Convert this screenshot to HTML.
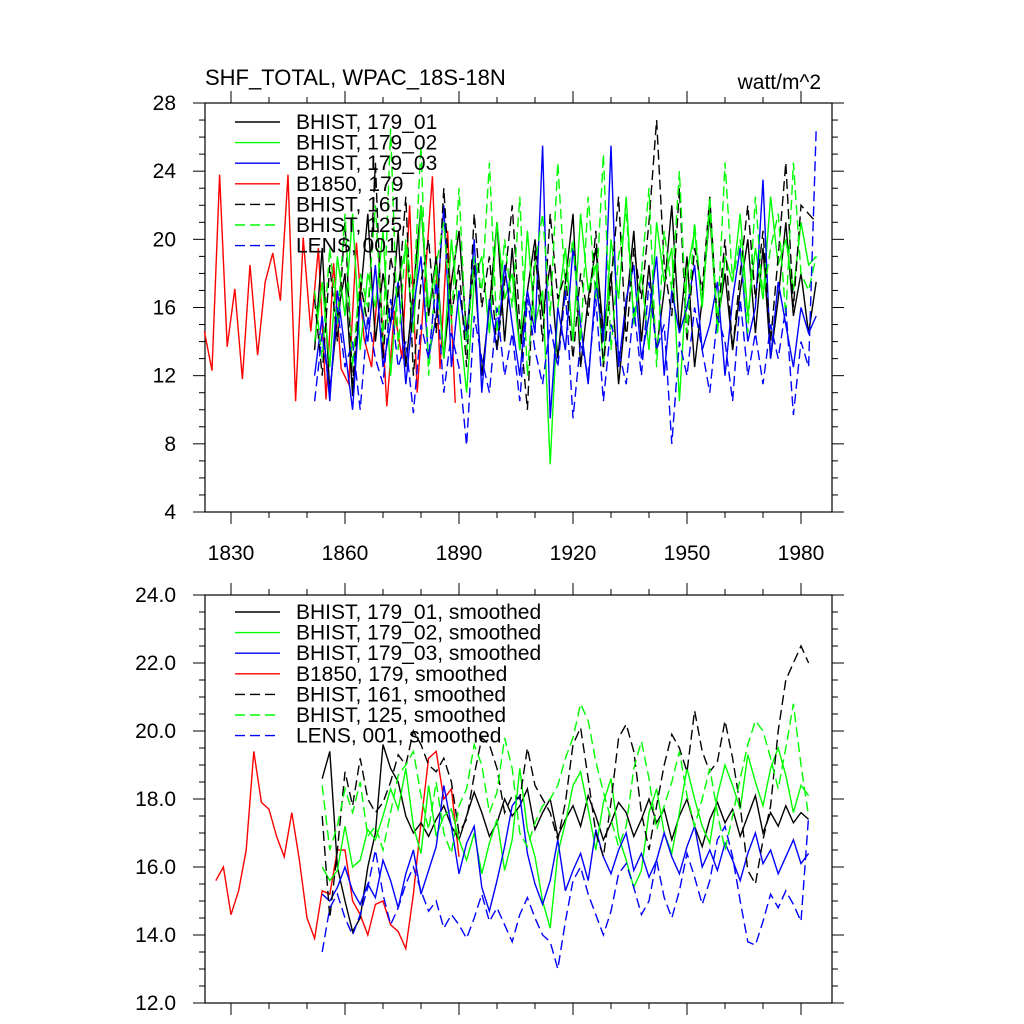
<!DOCTYPE html>
<html><head><meta charset="utf-8"><style>
body{margin:0;background:#fff;}
svg{display:block;font-family:"Liberation Sans",sans-serif;}
</style></head><body>
<svg id="c" width="1024" height="1024"></svg>
<script>
const redYears0=1823, redStep=2;
const red=[14.6,12.3,23.8,13.7,17.1,11.8,18.5,13.2,17.5,19.2,16.4,23.8,10.5,20.1,14.6,19.5,10.6,18.6,12.4,11.5,19.8,14.2,12.5,18.3,10.2,15.8,13.0,22.0,11.0,17.5,23.7,12.4,20.5,10.4];
const histStart=1852, histStep=2;
const blk=[13.5,19.5,11.0,15.5,18.0,10.8,16.5,21.5,14.0,18.0,15.0,20.5,12.5,17.0,22.0,15.5,19.0,13.0,17.5,20.5,14.5,18.5,12.0,16.0,21.0,14.0,19.5,13.5,17.0,20.0,15.5,18.5,13.0,17.5,21.5,12.5,16.5,19.5,14.5,18.0,11.5,16.0,20.5,14.0,18.5,13.5,17.0,22.0,14.5,19.0,12.5,16.5,21.5,15.0,18.0,13.5,17.0,20.0,14.5,19.5,13.0,16.5,21.0,15.5,18.0,14.5,17.5];
const grn=[14.0,17.5,12.5,19.0,15.5,21.5,13.5,18.0,16.0,20.5,12.0,17.5,19.5,14.5,22.0,16.0,18.5,13.0,20.0,15.5,11.0,17.5,19.0,14.5,21.0,16.5,18.0,13.5,20.5,15.0,17.0,6.8,16.0,19.5,14.0,21.5,17.0,18.5,12.5,20.0,16.5,22.5,15.0,18.0,13.5,21.0,17.5,19.5,10.5,18.0,20.5,16.0,22.0,14.5,19.0,17.5,21.5,15.5,19.5,16.5,22.5,18.5,20.0,17.0,21.0,18.5,19.0];
const blu=[12.0,15.5,10.5,17.0,13.5,10.0,16.5,14.0,18.5,12.5,15.0,17.5,11.5,16.0,19.0,13.0,15.5,22.0,12.5,17.0,14.0,20.0,11.0,16.5,13.5,18.5,15.0,12.0,17.0,14.5,25.5,9.5,16.0,13.5,19.5,15.0,11.5,17.5,14.0,25.5,12.5,16.5,18.5,13.0,15.5,19.0,12.0,17.0,14.5,16.0,18.5,13.5,15.0,17.5,12.0,16.5,19.5,14.0,16.0,23.5,13.0,17.5,15.0,12.5,16.0,14.5,15.5];
const blkD=[16.5,12.0,18.5,14.0,21.0,11.5,17.5,15.0,24.5,13.0,19.0,16.5,22.5,12.0,17.5,20.0,14.5,23.0,15.5,18.5,12.5,21.5,16.0,19.0,13.5,17.5,22.0,15.0,10.0,19.5,14.0,21.5,16.5,18.0,13.0,18.0,15.5,20.5,12.5,17.5,22.5,14.0,19.5,16.5,21.0,27.0,18.5,15.5,23.0,14.0,19.5,17.0,22.5,15.0,20.0,13.5,18.0,22.0,16.5,20.5,14.0,19.0,24.5,16.0,22.0,21.5,21.0];
const grnD=[17.0,13.0,19.5,15.0,21.5,12.5,18.0,16.0,22.0,14.0,26.5,13.5,20.0,16.5,25.5,12.0,18.5,21.0,15.0,23.0,13.5,19.0,17.0,24.5,14.5,20.0,16.0,22.5,12.0,18.5,21.5,15.5,24.5,17.0,20.0,14.0,22.5,16.5,25.0,13.5,19.0,21.5,15.5,18.0,23.0,12.5,20.5,17.0,24.0,14.5,21.0,16.0,22.5,15.0,24.5,17.5,20.0,14.5,22.5,16.5,19.5,21.5,15.5,24.5,18.0,17.0,19.0];
const bluD=[10.5,14.5,11.0,16.0,12.5,14.0,10.0,15.5,13.0,11.5,16.5,12.5,14.0,9.8,15.0,13.0,17.5,11.0,14.5,12.5,7.9,15.5,13.0,11.0,16.0,12.0,14.5,10.5,16.5,13.5,11.5,15.0,12.5,17.0,9.5,14.0,12.0,16.5,10.5,15.0,13.5,11.5,16.0,12.0,17.5,13.5,15.0,8.0,14.0,12.0,16.0,13.5,11.0,15.5,14.0,10.5,16.5,12.0,14.5,11.5,15.0,13.0,16.0,9.7,14.0,12.5,26.5];
const smRedStart=1826;
const smRed=[15.6,16.0,14.6,15.3,16.5,19.4,17.9,17.7,16.9,16.3,17.6,16.2,14.5,13.9,15.3,15.2,16.5,16.5,15.0,14.6,14.0,14.9,15.0,14.3,14.1,13.6,15.2,17.3,19.2,19.4,18.0,18.3,16.3];
const smStart=1854;
const smBlk=[18.6,19.4,16.0,15.0,14.1,14.5,16.0,17.0,19.6,18.9,18.5,17.5,17.0,17.3,16.9,17.4,17.8,17.2,16.8,17.5,18.2,17.6,16.9,17.3,18.0,17.5,17.8,18.3,17.1,17.6,18.0,16.9,17.4,17.8,17.2,18.1,17.5,16.8,17.3,17.9,17.6,16.9,17.4,18.0,17.3,17.7,16.8,17.5,18.0,17.2,16.6,17.4,17.9,17.3,17.7,16.9,17.5,18.1,17.0,17.6,17.2,17.8,17.3,17.6,17.4];
const smGrn=[16.0,15.6,15.9,17.2,16.0,16.2,17.1,16.8,17.5,18.3,17.7,18.9,17.2,16.4,18.4,16.9,17.5,17.7,16.8,16.2,17.0,15.8,16.7,17.4,15.9,16.8,18.9,17.1,16.3,15.0,14.2,16.4,17.3,18.4,18.8,17.7,16.5,17.9,18.6,16.9,16.2,15.4,15.9,17.6,18.3,17.0,16.4,17.6,18.9,18.0,17.2,16.7,18.1,19.0,18.4,17.7,19.3,18.5,17.8,18.9,19.5,18.7,17.6,18.4,18.1];
const smBlu=[15.2,15.0,15.4,16.0,15.3,14.9,15.5,15.1,16.2,15.6,14.8,15.8,16.5,15.2,15.9,16.6,18.4,17.2,15.8,16.7,17.2,15.4,14.7,15.6,16.6,17.8,18.1,16.4,15.5,14.9,15.6,16.8,15.3,15.9,16.4,15.6,17.1,16.3,15.8,16.5,17.0,15.9,16.4,15.7,16.2,17.0,16.3,15.8,16.6,17.2,16.0,16.5,15.9,16.7,16.2,15.6,16.4,17.0,16.1,16.5,15.8,16.3,16.8,16.1,16.4];
const smBlkD=[17.5,14.5,16.5,18.8,17.8,19.2,18.0,17.6,17.9,18.5,19.3,19.0,20.0,19.6,19.0,18.8,19.2,18.5,17.0,17.4,18.7,19.8,19.6,18.9,17.6,18.1,18.0,19.5,18.4,18.0,17.6,16.8,17.9,19.6,20.1,18.6,17.0,16.3,17.9,19.8,20.2,19.4,17.6,16.5,17.8,19.0,19.9,19.5,18.8,20.6,19.4,18.8,19.1,20.3,19.2,17.8,15.9,15.5,16.8,17.8,20.0,21.5,22.0,22.5,22.0];
const smGrnD=[18.4,16.5,17.2,18.3,17.6,18.5,16.9,17.2,16.5,17.6,18.7,19.0,19.4,18.1,17.1,18.5,17.0,16.4,17.8,18.3,19.6,19.0,17.6,18.2,19.8,18.9,17.0,16.6,17.3,17.8,18.0,18.4,19.2,19.8,20.8,20.3,19.1,18.2,17.4,16.6,17.2,18.9,19.7,18.6,17.1,17.8,18.5,19.4,18.1,17.2,18.0,18.9,17.6,16.5,17.5,18.6,19.6,20.3,20.0,19.2,18.3,19.5,20.8,19.0,17.5];
const smBluD=[13.5,14.8,15.2,14.5,14.0,14.6,15.4,16.5,15.2,14.3,14.8,15.5,16.0,15.3,14.7,15.0,14.2,14.6,14.3,13.9,14.5,15.2,14.4,14.8,14.3,13.8,14.6,15.1,14.5,14.0,13.8,13.0,14.4,15.6,16.0,15.2,14.6,14.0,14.7,15.8,16.1,15.4,14.6,15.0,16.2,15.1,14.5,15.3,16.4,15.7,14.9,15.6,16.8,17.2,16.3,15.0,13.8,13.7,14.4,15.2,14.8,15.3,14.9,14.4,17.5];
const topYTicks=[4,8,12,16,20,24,28];
const botYTicks=["12.0","14.0","16.0","18.0","20.0","22.0","24.0"];
const xTicks=[1830,1860,1890,1920,1950,1980];

const NS="http://www.w3.org/2000/svg";
const svg=document.getElementById('c');
function el(tag,attrs,parent){const e=document.createElementNS(NS,tag);for(const k in attrs)e.setAttribute(k,attrs[k]);(parent||svg).appendChild(e);return e;}
const X0=205,X1=832;
function xs(yr){return 231+(yr-1830)*3.8;}
function panel(name,top,bot,ymin,ymax,major,minor,ticks,showX){
  const g=el('g',{});
  
  
  const ys=v=>bot-(v-ymin)/(ymax-ymin)*(bot-top);
  const fr=el('rect',{x:X0,y:top,width:X1-X0,height:bot-top,fill:'none',stroke:'#000','stroke-width':1.2},g);
  
  
  for(let v=ymin;v<=ymax+1e-9;v+=minor){
    const isM=Math.abs(((v-ymin)/major)-Math.round((v-ymin)/major))<1e-6;
    const L=isM?12:6;
    el('line',{x1:X0,x2:X0-L,y1:ys(v),y2:ys(v),stroke:'#000'},g);
    el('line',{x1:X1,x2:X1+L,y1:ys(v),y2:ys(v),stroke:'#000'},g);
  }
  ticks.forEach(t=>{
    const tx=el('text',{x:176,y:ys(parseFloat(t))+7,'text-anchor':'end','font-size':21},g);
    tx.textContent=t;
    
    
  });
  for(let yr=1820;yr<=1990;yr+=10){
    const x=xs(yr);if(x<X0||x>X1)continue;
    const L=(yr%30===0)?12:6;
    el('line',{x1:x,x2:x,y1:top,y2:top-L,stroke:'#000'},g);
    el('line',{x1:x,x2:x,y1:bot,y2:bot+L,stroke:'#000'},g);
  }
  if(showX) xTicks.forEach(t=>{
    const tx=el('text',{x:xs(t),y:bot+48,'text-anchor':'middle','font-size':21},g);
    tx.textContent=t;
    
    
  });
  return {g,ys};
}
function series(p,name,arr,start,step,color,dash){
  const pts=arr.map((v,i)=>xs(start+i*step).toFixed(1)+','+p.ys(v).toFixed(1)).join(' ');
  const pl=el('polyline',{points:pts,fill:'none',stroke:color,'stroke-width':1.4,'stroke-dasharray':dash?'10,5':'none'},p.g);
  
  
}
function legend(p,y0,labels){
  const cols=['#000','#00ff00','#0000ff','#ff0000','#000','#00ff00','#0000ff'];
  labels.forEach((t,i)=>{
    const y=y0+i*20.6;
    const ln=el('line',{x1:235,x2:280,y1:y,y2:y,stroke:cols[i],'stroke-width':1.4,'stroke-dasharray':i>=4?'10,5':'none'},p.g);
    
    
    const tx=el('text',{x:296,y:y+7,'font-size':21},p.g);
    tx.textContent=t;
    
    
  });
}
const p1=panel('top-panel',103,512,4,28,4,1,topYTicks.map(String),true);
series(p1,'b1850-179',red,redYears0,redStep,'#ff0000',false);
series(p1,'bhist-179-01',blk,histStart,histStep,'#000',false);
series(p1,'bhist-179-02',grn,histStart,histStep,'#00ff00',false);
series(p1,'bhist-179-03',blu,histStart,histStep,'#0000ff',false);
series(p1,'bhist-161',blkD,histStart,histStep,'#000',true);
series(p1,'bhist-125',grnD,histStart,histStep,'#00ff00',true);
series(p1,'lens-001',bluD,histStart,histStep,'#0000ff',true);
legend(p1,122,['BHIST, 179_01','BHIST, 179_02','BHIST, 179_03','B1850, 179','BHIST, 161','BHIST, 125','LENS, 001']);

const p2=panel('bottom-panel',595,1003,12,24,2,0.5,botYTicks,false);
series(p2,'b1850-179-smoothed',smRed,smRedStart,2,'#ff0000',false);
series(p2,'bhist-179-01-smoothed',smBlk,smStart,2,'#000',false);
series(p2,'bhist-179-02-smoothed',smGrn,smStart,2,'#00ff00',false);
series(p2,'bhist-179-03-smoothed',smBlu,smStart,2,'#0000ff',false);
series(p2,'bhist-161-smoothed',smBlkD,smStart,2,'#000',true);
series(p2,'bhist-125-smoothed',smGrnD,smStart,2,'#00ff00',true);
series(p2,'lens-001-smoothed',smBluD,smStart,2,'#0000ff',true);
legend(p2,612,['BHIST, 179_01, smoothed','BHIST, 179_02, smoothed','BHIST, 179_03, smoothed','B1850, 179, smoothed','BHIST, 161, smoothed','BHIST, 125, smoothed','LENS, 001, smoothed']);

const t1=el('text',{x:205,y:85,'font-size':22});
t1.textContent='SHF_TOTAL, WPAC_18S-18N';


const t2=el('text',{x:821,y:89,'font-size':21,'text-anchor':'end'});
t2.textContent='watt/m^2';


</script>
</body></html>
